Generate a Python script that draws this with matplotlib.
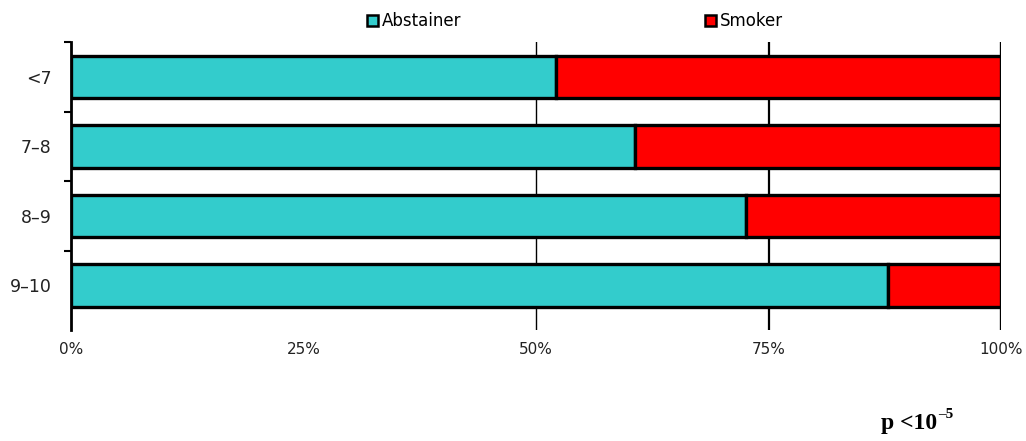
#!/usr/bin/env python3
"""Abstainer vs smoker share by score group, 100% stacked bars."""

import matplotlib
matplotlib.use("Agg")
import matplotlib.pyplot as plt
from matplotlib.patches import Patch

groups = ["<7", "7\u20138", "8\u20139", "9\u201310"]
abstainer = [52.2, 60.6, 72.6, 87.8]
smoker = [100 - a for a in abstainer]
xticks = [0, 25, 50, 75, 100]
xtick_labels = ["0%", "25%", "50%", "75%", "100%"]

CYAN = "#33CCCC"
RED = "#FF0000"

fig = plt.figure(figsize=(10.26, 4.41), dpi=100)
ax = fig.add_axes([71 / 1026, (441 - 330) / 441, 930 / 1026, 288 / 441])

pos = list(range(len(groups)))
ax.barh(pos, abstainer, height=0.61, color=CYAN, edgecolor="black", linewidth=2.4, zorder=3)
ax.barh(pos, smoker, left=abstainer, height=0.61, color=RED, edgecolor="black", linewidth=2.4, zorder=3)

for x, lw in [(50, 1.0), (75, 1.6), (100, 2.4)]:
    ax.axvline(x, color="black", linewidth=lw, zorder=1)

ax.set_xlim(0, 100)
ax.set_ylim(3.64, -0.48)

ax.set_yticks(pos)
ax.set_yticklabels(groups, fontsize=12.5, color="#222222")
ax.set_yticks([p - 0.5 for p in pos], minor=True)
ax.tick_params(axis="y", which="major", length=0, pad=14)
ax.tick_params(axis="y", which="minor", length=5, width=1.5, direction="out")

ax.set_xticks(xticks)
ax.set_xticklabels(xtick_labels, fontsize=11, color="#222222")
ax.tick_params(axis="x", length=0, pad=9)

for side in ["top", "right", "bottom"]:
    ax.spines[side].set_visible(False)
ax.spines["left"].set_linewidth(2)

handles = [
    Patch(facecolor=CYAN, edgecolor="black", linewidth=1.8, label="Abstainer"),
    Patch(facecolor=RED, edgecolor="black", linewidth=1.8, label="Smoker"),
]
fig.legend(handles=handles, loc="center left", bbox_to_anchor=(367 / 1026, 1 - 21 / 441), ncol=2,
           frameon=False, fontsize=12, handlelength=0.65, handleheight=0.65, handletextpad=0.25,
           columnspacing=14.6, borderpad=0, borderaxespad=0)

fig.text(937 / 1026, 1 - 424 / 441, "p <10", fontsize=17, fontweight="bold",
         family="Liberation Serif", ha="right", va="center")
fig.text(938 / 1026, 1 - 414 / 441, "\u20135", fontsize=11, fontweight="bold",
         family="Liberation Serif", ha="left", va="center")

fig.savefig("out.png", dpi=100, facecolor="white")
